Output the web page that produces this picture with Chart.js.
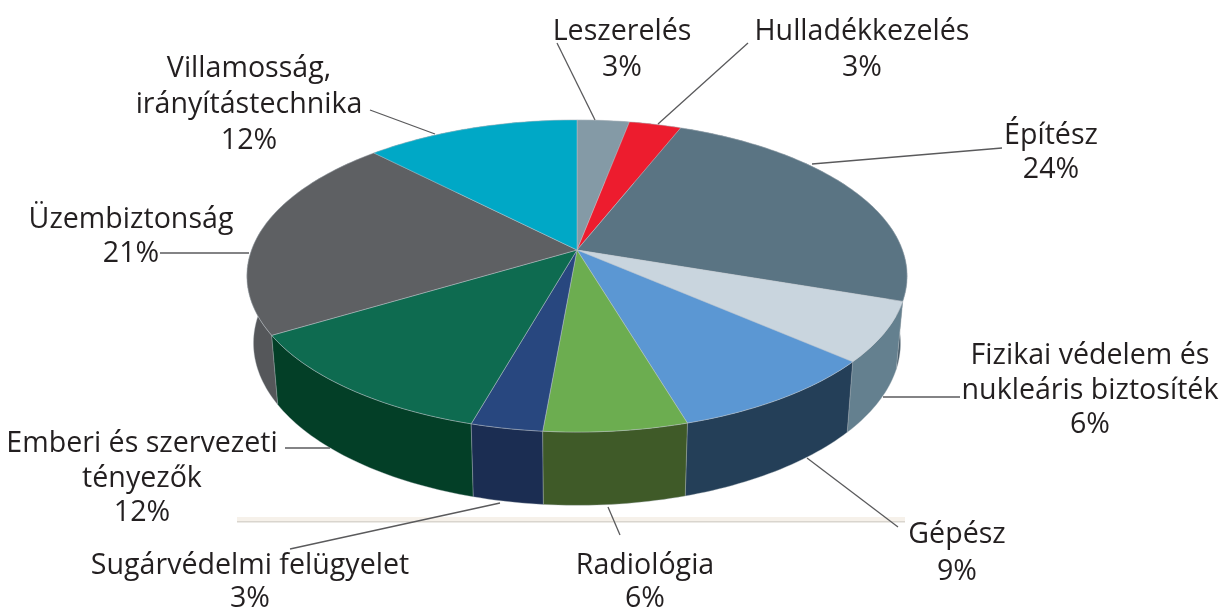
<!DOCTYPE html>
<html lang="hu">
<head>
<meta charset="utf-8">
<title>Szakterületek megoszlása</title>
<style>
  html, body { margin: 0; padding: 0; background: #fff; }
  canvas { display: block; }
</style>
<script src="https://cdn.jsdelivr.net/npm/chart.js@4.4.7/dist/chart.umd.min.js"></script>
</head>
<body>
<canvas id="chart" width="1222" height="610"></canvas>
<script>
const categories = ['Leszerelés', 'Hulladékkezelés', 'Építész', 'Fizikai védelem és nukleáris biztosíték', 'Gépész', 'Radiológia', 'Sugárvédelmi felügyelet', 'Emberi és szervezeti tényezők', 'Üzembiztonság', 'Villamosság, irányítástechnika'];
const shares = [3, 3, 24.2, 6.2, 9, 6, 3, 12, 21.3, 12.3];
const topColors = ['#849aa6', '#ed1c2e', '#5a7483', '#c9d5de', '#5b97d3', '#6cad50', '#28477f', '#0e6b50', '#5e6063', '#00a8c6'];
const wallColors = ['#64757f', '#a01420', '#465a68', '#64808f', '#243f58', '#3f5a28', '#1b2d52', '#033f27', '#55575a', '#007f96'];

// text blocks: [centre x, first baseline, line step, lines...], same order as categories
const labelLayout = [
  [622, 40, 36, ['Leszerelés']],
  [862, 40, 36, ['Hulladékkezelés']],
  [1051, 144, 34, ['Építész']],
  [1090, 364, 34.5, ['Fizikai védelem és', 'nukleáris biztosíték']],
  [957, 543, 37, ['Gépész']],
  [645, 574, 33, ['Radiológia']],
  [250, 574, 33, ['Sugárvédelmi felügyelet']],
  [142, 452, 34.5, ['Emberi és szervezeti', 'tényezők']],
  [131, 228, 34, ['Üzembiztonság']],
  [249, 77, 36, ['Villamosság,', 'irányítástechnika']],
];
const leaderLines = [
  [557, 43, 595, 120], [748, 43, 658, 124], [812, 164, 1002, 148], [883, 397, 960, 397],
  [807, 458, 898, 527], [608, 507, 620, 535], [500, 503, 290, 549], [285, 448, 330, 448],
  [160, 253, 249, 253], [370, 110, 435, 134],
];

// flat disc seen in perspective, centre of the pie sits above the ellipse centre
const view = { cx: 577, cy: 250, a: 325.5, b: 151.7, k: 1 / 6 };

function project(angle, sx = 1, sy = 1, y0 = view.cy) {
  const x = Math.cos(angle);
  const y = Math.sin(angle);
  const d = 1 - view.k * y;
  return [view.cx + sx * view.a * x / d, y0 + sy * view.b * y / d];
}

function bottom(angle) {
  return project(angle, 0.98, 1.04, 316);
}

function sampleArc(start, end, fn) {
  const steps = Math.max(4, Math.ceil((end - start) / 0.02));
  const pts = [];
  for (let i = 0; i <= steps; i += 1) pts.push(fn(start + (end - start) * i / steps));
  return pts;
}

function tracePoints(ctx, pts) {
  pts.forEach((p) => ctx.lineTo(p[0], p[1]));
}

const perspectivePie = {
  id: 'perspectivePie',
  beforeDatasetDraw(chart, args) {
    const ctx = chart.ctx;
    const arcs = args.meta.data;
    ctx.save();
    ctx.lineJoin = 'round';

    // walls, far ones first
    const order = arcs.map((_, i) => i).sort((p, q) => {
      const mid = (arc) => Math.sin((arc.startAngle + arc.endAngle) / 2);
      return mid(arcs[p]) - mid(arcs[q]);
    });
    order.forEach((i) => {
      const arc = arcs[i];
      const topEdge = sampleArc(arc.startAngle, arc.endAngle, (a) => project(a));
      const lowEdge = sampleArc(arc.startAngle, arc.endAngle, bottom).reverse();
      ctx.beginPath();
      tracePoints(ctx, topEdge.concat(lowEdge));
      ctx.closePath();
      ctx.fillStyle = wallColors[i];
      ctx.fill();
      ctx.strokeStyle = 'rgba(170,180,185,0.45)';
      ctx.lineWidth = 0.8;
      ctx.stroke();
    });

    // top surface
    arcs.forEach((arc, i) => {
      ctx.beginPath();
      ctx.moveTo(view.cx, view.cy);
      tracePoints(ctx, sampleArc(arc.startAngle, arc.endAngle, (a) => project(a)));
      ctx.closePath();
      ctx.fillStyle = topColors[i];
      ctx.fill();
      ctx.strokeStyle = 'rgba(190,198,205,0.55)';
      ctx.lineWidth = 0.8;
      ctx.stroke();
    });
    ctx.restore();
    return false;
  },
  beforeDraw(chart) {
    const ctx = chart.ctx;
    ctx.save();
    ctx.fillStyle = '#f6f1ea';
    ctx.fillRect(237, 517, 668, 5);
    ctx.fillStyle = '#d9d5ce';
    ctx.fillRect(237, 521, 668, 1.5);
    ctx.restore();
  },
  afterDraw(chart) {
    const ctx = chart.ctx;
    ctx.save();
    ctx.strokeStyle = '#5a5a5c';
    ctx.lineWidth = 1.3;
    leaderLines.forEach((l) => {
      ctx.beginPath();
      ctx.moveTo(l[0], l[1]);
      ctx.lineTo(l[2], l[3]);
      ctx.stroke();
    });
    ctx.fillStyle = '#231f20';
    ctx.font = '28.6px "Open Sans"';
    ctx.textAlign = 'center';
    ctx.textBaseline = 'alphabetic';
    labelLayout.forEach((block, i) => {
      const [x, y, step, lines] = block;
      lines.forEach((line, n) => ctx.fillText(line, x, y + n * step));
      ctx.fillText(Math.round(shares[i]) + '%', x, y + lines.length * step);
    });
    ctx.restore();
  },
};

new Chart(document.getElementById('chart'), {
  type: 'pie',
  data: {
    labels: categories,
    datasets: [{ data: shares, backgroundColor: topColors, borderWidth: 0 }],
  },
  options: {
    responsive: false,
    animation: false,
    events: [],
    plugins: { legend: { display: false }, tooltip: { enabled: false } },
  },
  plugins: [perspectivePie],
});
</script>
</body>
</html>
